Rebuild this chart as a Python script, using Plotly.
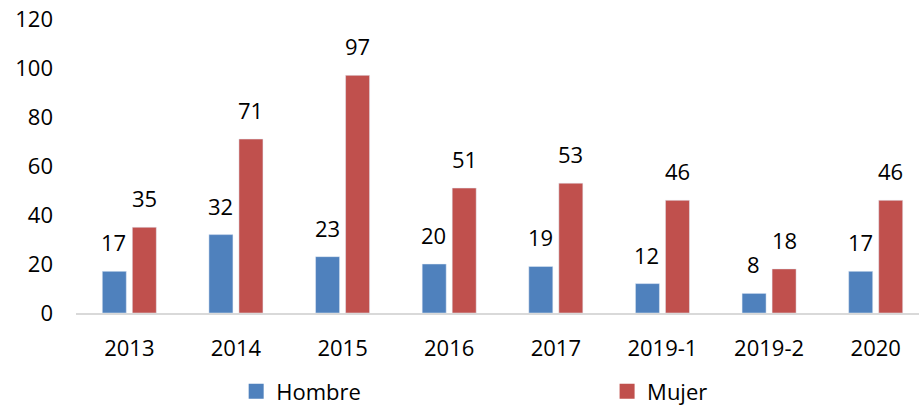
import plotly.graph_objects as go

CATEGORIES = ["2013", "2014", "2015", "2016", "2017", "2019-1", "2019-2", "2020"]
HOMBRE = [17, 32, 23, 20, 19, 12, 8, 17]
MUJER = [35, 71, 97, 51, 53, 46, 18, 46]

BLUE = "#4F81BD"
RED = "#C0504D"
FONT = "Open Sans"

fig = go.Figure()

fig.add_trace(go.Bar(x=CATEGORIES, y=HOMBRE, name="Hombre", marker_color=BLUE, showlegend=False))
fig.add_trace(go.Bar(x=CATEGORIES, y=MUJER, name="Mujer", marker_color=RED, showlegend=False))

# legend entries with bigger squares than the default bar icon, one legend each
for name, color, leg in [("Hombre", BLUE, "legend"), ("Mujer", RED, "legend2")]:
    fig.add_trace(
        go.Scatter(
            x=[None], y=[None], mode="markers", name=name, legend=leg,
            marker=dict(symbol="square", size=15, color=color),
        )
    )

# value labels sit well above the bars, so use annotations
# (x as category index: "2013" etc would be read as numbers)
for values, shift in [(HOMBRE, -15.5), (MUJER, 15)]:
    for i, v in enumerate(values):
        fig.add_annotation(
            x=i, y=v, text=str(v), showarrow=False,
            xshift=shift, yshift=12, yanchor="bottom",
            font=dict(family=FONT, size=22, color="#000000"),
        )

legend_style = dict(
    orientation="h",
    yanchor="top",
    y=-0.195,
    xanchor="left",
    font=dict(family=FONT, size=22),
    bgcolor="rgba(0,0,0,0)",
    borderwidth=0,
)

fig.update_layout(
    width=919,
    height=405,
    margin=dict(l=76, r=0, t=19, b=92, autoexpand=False),
    plot_bgcolor="white",
    paper_bgcolor="white",
    font=dict(family=FONT, size=22, color="#000000"),
    barmode="group",
    bargap=0.437,
    bargroupgap=0.2,
    legend=dict(x=0.19, **legend_style),
    legend2=dict(x=0.63, **legend_style),
)

fig.update_xaxes(
    type="category",
    range=[-0.5, 7.406],
    showline=True,
    linecolor="#D9D9D9",
    linewidth=2,
    ticks="",
    ticklabelstandoff=15,
    showgrid=False,
)
fig.update_yaxes(
    range=[0, 120],
    dtick=20,
    showline=False,
    showgrid=False,
    zeroline=False,
    ticks="",
    ticklabelstandoff=22,
)

# drop the default body margin so the figure fills the window
fig.write_html(
    "out.html",
    config={"displayModeBar": False},
    post_script="document.body.style.margin='0';",
)
